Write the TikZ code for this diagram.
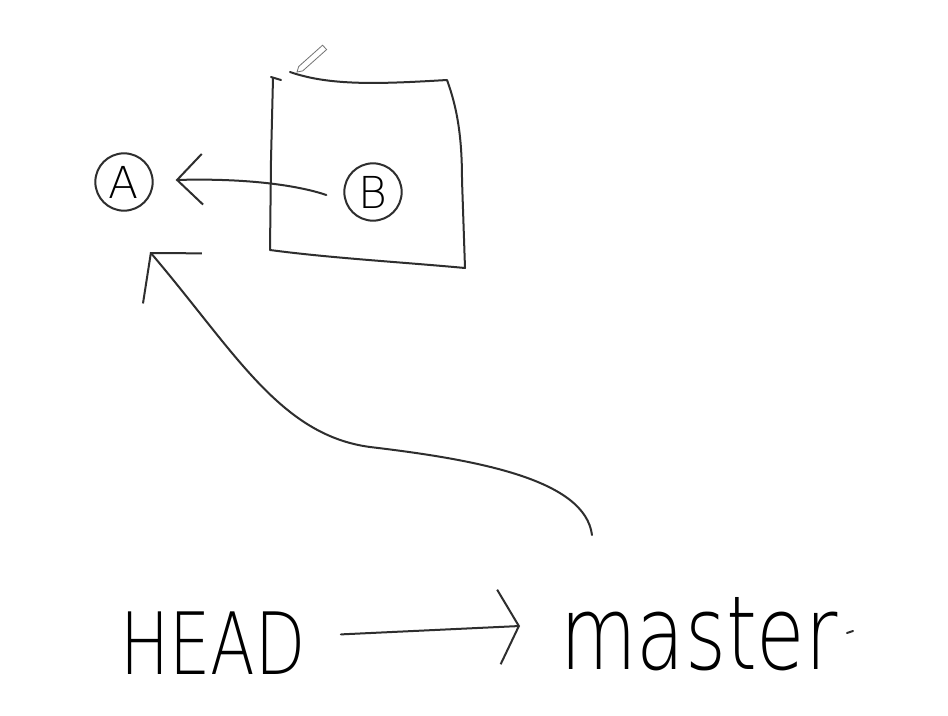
\documentclass[tikz,border=0pt]{standalone}
\usepackage{fontspec}
\usepackage{graphicx}
\setmainfont{Liberation Sans}
\newfontfamily\hand{DejaVu Sans ExtraLight}
\usetikzlibrary{arrows.meta,calc}
\begin{document}
\begin{tikzpicture}[x=0.75pt,y=-0.75pt,
  ink/.style={line width=1.5pt, draw=black!82, line cap=round, line join=round},
  commit/.style={ink, circle, minimum size=43pt, inner sep=0pt, font=\hand\fontsize{33}{33}\selectfont},
  label/.style={inner sep=0pt, anchor=south west}
]
\useasboundingbox (0,0) rectangle (948,716);
\fill[white] (0,0) rectangle (948,716);

% commits
\node[commit] (A) at (124,182) {A};
\node[commit] (B) at (373,192) {B};

% hand-drawn box around B
\draw[ink] (290,72) .. controls (330,86) and (380,84) .. (447,80)
  .. controls (458,110) and (462,140) .. (462,180) -- (465,268)
  .. controls (400,262) and (330,258) .. (270,250) -- (271,160) -- (273,78);
\draw[ink] (271,77) -- (281,80);

% pencil cursor
\draw[black!55, fill=white, line width=0.6pt] (297,72) -- (302.7,70.9) -- (326.6,49.6) -- (322.6,45.2) -- (298.7,66.5) -- cycle;

% B -> A
\draw[ink, -{Straight Barb[length=19pt,width=38pt]}]
  ($(B.west)+(-17,3)$) .. controls (300,186) and (250,178) .. ($(A.east)+(22,-2)$);

% labels
\node[label] (head) at (120,675) {\resizebox{139pt}{47pt}{\hand HEAD}};
\node[label] (master) at (560,671) {\resizebox{208pt}{54pt}{\hand master}};
\coordinate (dot) at ($(master.east)+(9,-1)$);
\draw[ink] (dot) -- ++(6,-2);

% HEAD -> master
\draw[ink, -{Straight Barb[length=15pt,width=56pt]}]
  ($(head.east)+(35,-9)$) -- ($(master.west)+(-40,-8)$);

% master -> A
\draw[ink, -{Straight Barb[length=25pt,width=58pt]}]
  ($(master.north west)+(32,-62)$) .. controls (585,480) and (480,460) .. (370,447)
  .. controls (280,435) and (235,352) .. ($(A)+(26,70)$);
\end{tikzpicture}
\end{document}
